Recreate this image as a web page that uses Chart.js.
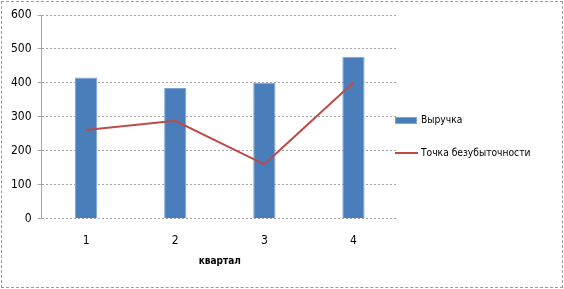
<!DOCTYPE html>
<html>
<head>
<meta charset="utf-8">
<script src="https://cdn.jsdelivr.net/npm/chart.js@4"></script>
<style>
  html, body { margin: 0; padding: 0; background: #fff; }
  #wrap { position: relative; width: 564px; height: 289px; }
  #frame { position: absolute; left: 1px; top: 1px; width: 560px; height: 285px; border: 1px dashed #9a9a9a; pointer-events: none; }
</style>
</head>
<body>
<div id="wrap">
  <canvas id="myChart" width="564" height="289"></canvas>
  <div id="frame"></div>
</div>
<script>
(() => {
  'use strict'

  // Data
  const quarters = ['1', '2', '3', '4']
  const revenue = [416, 385, 400, 477]
  const breakEven = [261, 288, 160, 401]
  const yTicks = [0, 100, 200, 300, 400, 500, 600]

  const family = "'Liberation Sans Narrow', 'DejaVu Sans Condensed', Arial, sans-serif"
  Chart.defaults.font = { family, size: 12 }
  Chart.defaults.color = '#000'

  // legend on the right, drawn next to the plot like in the spreadsheet chart
  const sideLegend = {
    id: 'sideLegend',
    afterDraw (chart) {
      const c = chart.ctx
      const x0 = chart.chartArea.right - 3
      const rows = [
        { ds: chart.data.datasets[1], y: 120.5 },
        { ds: chart.data.datasets[0], y: 153 }
      ]
      c.save()
      c.font = '10.2px ' + family
      c.textBaseline = 'middle'
      rows.forEach(r => {
        if (r.ds.type === 'bar') {
          c.fillStyle = r.ds.backgroundColor
          c.fillRect(x0, r.y - 3.5, 22, 7)
          c.strokeStyle = r.ds.borderColor
          c.lineWidth = 1
          c.strokeRect(x0 + 0.5, r.y - 3, 21, 6)
        } else {
          c.strokeStyle = r.ds.borderColor
          c.lineWidth = 2
          c.beginPath()
          c.moveTo(x0, r.y)
          c.lineTo(x0 + 23, r.y)
          c.stroke()
        }
        c.fillStyle = '#000'
        c.fillText(r.ds.label, x0 + 26, r.y)
      })
      c.restore()
    }
  }

  const ctx = document.getElementById('myChart')
  // eslint-disable-next-line no-unused-vars
  const myChart = new Chart(ctx, {
    data: {
      labels: quarters,
      datasets: [{
        type: 'line',
        label: 'Точка безубыточности',
        data: breakEven,
        borderColor: '#be4b48',
        backgroundColor: '#be4b48',
        borderWidth: 2,
        pointRadius: 0,
        tension: 0,
        order: 0
      }, {
        type: 'bar',
        label: 'Выручка',
        data: revenue,
        backgroundColor: '#4a7ebb',
        borderColor: '#7ea6d8',
        borderWidth: 1,
        barPercentage: 0.25,
        categoryPercentage: 1,
        order: 1
      }]
    },
    options: {
      responsive: false,
      animation: false,
      layout: { padding: { left: 5, top: 15, right: 166, bottom: 22 } },
      scales: {
        x: {
          grid: { display: false },
          border: { display: false },
          ticks: { padding: 7 },
          title: { display: true, text: 'квартал', font: { weight: 'bold', size: 10 }, padding: { top: 0, bottom: 0 } }
        },
        y: {
          min: 0,
          max: 600,
          afterBuildTicks: (axis) => { axis.ticks = yTicks.map(v => ({ value: v })) },
          grid: { color: '#a6a6a6', tickLength: 4, drawTicks: true },
          border: { color: '#a6a6a6', dash: [2, 2] },
          ticks: { padding: 6 }
        }
      },
      plugins: {
        legend: { display: false },
        tooltip: { enabled: false }
      }
    },
    plugins: [sideLegend]
  })
})()
</script>
</body>
</html>
